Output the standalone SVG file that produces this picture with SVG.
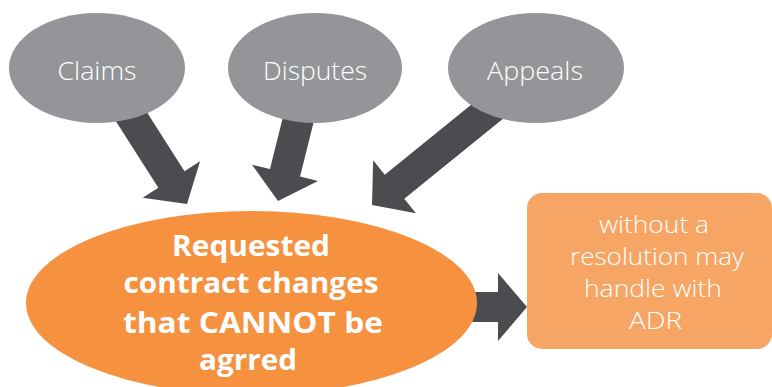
<svg xmlns="http://www.w3.org/2000/svg" width="772" height="387" viewBox="0 0 772 387">
<defs>
<style>
.gray{fill:#939598}
.arrow{fill:#4B4C50}
.main{fill:#F5913F}
.box{fill:#F7A564}
.lbl{font-family:"Open Sans","Liberation Sans",sans-serif;font-size:25px;font-weight:300;fill:#fff;text-anchor:middle}
.big{font-family:"Open Sans","Liberation Sans",sans-serif;font-size:29px;font-weight:700;fill:#fff;text-anchor:middle}
.sm{font-family:"Open Sans","Liberation Sans",sans-serif;font-size:24px;font-weight:300;fill:#fff;text-anchor:middle}
</style>
</defs>
<g id="connectors">
<polygon class="arrow" transform="translate(187,204) rotate(57.5)" points="-130,-15.5 -29,-15.5 -29,-34 0,0 -29,34 -29,15.5 -130,15.5"/>
<polygon class="arrow" transform="translate(278,201) rotate(104)" points="-110,-15.5 -29,-15.5 -29,-34 0,0 -29,34 -29,15.5 -110,15.5"/>
<polygon class="arrow" transform="translate(372,205) rotate(141)" points="-160,-15.5 -29,-15.5 -29,-34 0,0 -29,34 -29,15.5 -160,15.5"/>
<polygon class="arrow" transform="translate(527,307)" points="-70,-15 -29,-15 -29,-34 0,0 -29,34 -29,15 -70,15"/>
</g>
<g id="claims">
<ellipse class="gray" cx="97" cy="68" rx="88" ry="55"/>
<text class="lbl" x="97" y="80" textLength="79" lengthAdjust="spacingAndGlyphs">Claims</text>
</g>
<g id="disputes">
<ellipse class="gray" cx="315" cy="68" rx="87" ry="55"/>
<text class="lbl" x="315" y="80" textLength="104" lengthAdjust="spacingAndGlyphs">Disputes</text>
</g>
<g id="appeals">
<ellipse class="gray" cx="536" cy="68" rx="88" ry="55"/>
<text class="lbl" x="535" y="80" textLength="96" lengthAdjust="spacingAndGlyphs">Appeals</text>
</g>
<g id="requested">
<ellipse class="main" cx="251.5" cy="303" rx="225.5" ry="92"/>
<text class="big" x="251" y="256" textLength="158" lengthAdjust="spacingAndGlyphs">Requested</text>
<text class="big" x="251" y="293" textLength="255" lengthAdjust="spacingAndGlyphs">contract changes</text>
<text class="big" x="253" y="333" textLength="260" lengthAdjust="spacingAndGlyphs">that CANNOT be</text>
<text class="big" x="248" y="370" textLength="98" lengthAdjust="spacingAndGlyphs">agrred</text>
</g>
<g id="adr">
<rect class="box" x="527" y="193" width="245" height="156" rx="15" ry="15"/>
<text class="sm" x="654" y="233" textLength="110" lengthAdjust="spacingAndGlyphs">without a</text>
<text class="sm" x="657" y="265" textLength="174" lengthAdjust="spacingAndGlyphs">resolution may</text>
<text class="sm" x="653" y="297" textLength="138" lengthAdjust="spacingAndGlyphs">handle with</text>
<text class="sm" x="655.5" y="329" textLength="53" lengthAdjust="spacingAndGlyphs">ADR</text>
</g>
</svg>
